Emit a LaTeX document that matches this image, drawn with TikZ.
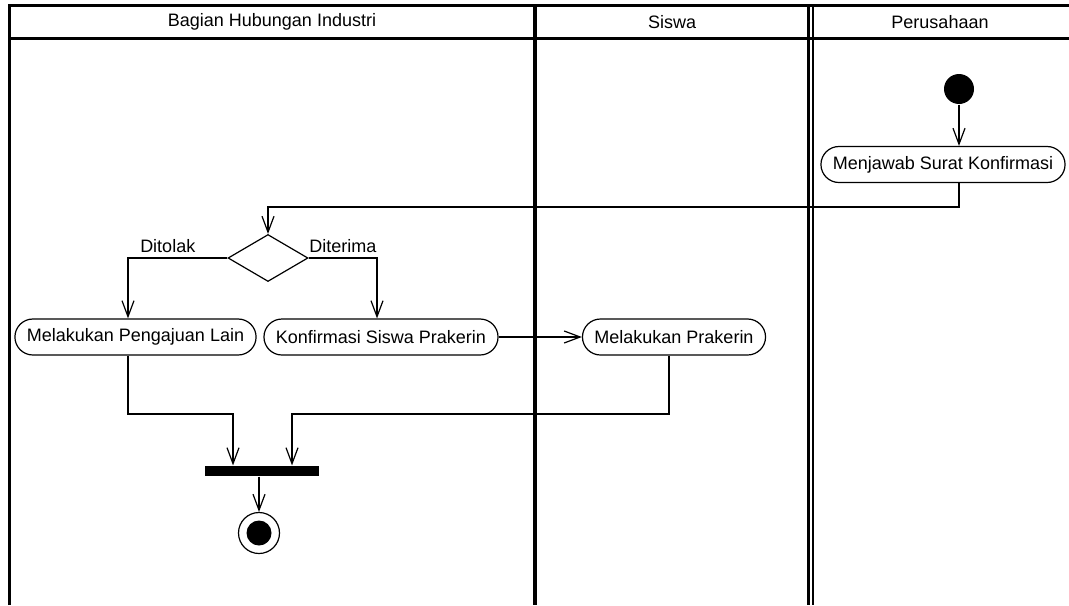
\documentclass[tikz,border=0pt]{standalone}
\usepackage{fontspec}
\setmainfont{Liberation Sans}
\usetikzlibrary{shapes.geometric}
\usetikzlibrary{positioning}
\usetikzlibrary{arrows.meta}
\usetikzlibrary{calc}
\tikzset{every picture/.style={line width=0.6pt,font=\fontsize{9}{11}\selectfont},
  act/.style={draw,rectangle,rounded corners=9pt,minimum height=18pt,inner xsep=6pt,inner ysep=0pt},
  choice/.style={draw,diamond,minimum width=40pt,minimum height=23.5pt,inner sep=0pt},
  lane/.style={line width=1.5pt},
  flow/.style={-{Straight Barb[length=8pt,width=6pt]}}}

\begin{document}
\begin{tikzpicture}[x=0.5pt,y=-0.5pt]
%[1 unit = 1 px of the drawing]
\useasboundingbox (0,0) rectangle (1069,605);

% swimlanes
\draw[lane] (9,605) -- (9,5) -- (1069,5);
\draw[lane] (9,38) -- (1069,38);
\draw[line width=2pt] (535,5) -- (535,605);
\draw[lane] (808,5) -- (808,605);
\draw[line width=1pt] (812.5,5) -- (812.5,605);
\node (hdrA) at (272,22) {Bagian Hubungan Industri};
\node (hdrB) at (672,22) {Siswa};
\node (hdrC) at (940,22) {Perusahaan};

\coordinate (lvlA) at (0,207);
\coordinate (lvlB) at (0,414);

\node (start) at (959,89) [circle,fill,minimum size=15pt,inner sep=0pt] {};
\node (menjawab) at (943,164.5) [act] {Menjawab Surat Konfirmasi};
\node (keputusan) at (268,258) [choice] {};
\node (pengajuan) at (135.5,337) [act] {Melakukan Pengajuan Lain};
\node (konfirmasi) at (381,337) [act] {Konfirmasi Siswa Prakerin};
\node (prakerin) at (674,337) [act] {Melakukan Prakerin};
\node (join) at (262,471) [fill,minimum width=57pt,minimum height=5pt,inner sep=0pt] {};
\node (end) at (259,533) [circle,draw,minimum size=20.5pt,inner sep=0pt] {};
\node (endin) at (end) [circle,fill,minimum size=12.5pt,inner sep=0pt] {};

\draw[flow] (start.south) -- (start.south |- menjawab.north);
\draw[flow] (start |- menjawab.south) -- (start |- lvlA) -| (keputusan.north);
\draw[flow] (keputusan.west) -| node[pos=0.3,above=-1pt] {Ditolak} ([xshift=-3.75pt]pengajuan.north);
\draw[flow] (keputusan.east) -| node[pos=0.25,above=-1pt] {Diterima} ([xshift=-2pt]konfirmasi.north);
\draw[flow] (konfirmasi) -- (prakerin);
\draw[flow] ([xshift=-3.75pt]pengajuan.south) -- ([xshift=-3.75pt]pengajuan.south |- lvlB) -| ([xshift=-14.5pt]join.north);
\draw[flow] ([xshift=-2.5pt]prakerin.south) -- ([xshift=-2.5pt]prakerin.south |- lvlB) -| ([xshift=15pt]join.north);
\draw[flow] (join.south -| end) -- (end.north);
\end{tikzpicture}
\end{document}
